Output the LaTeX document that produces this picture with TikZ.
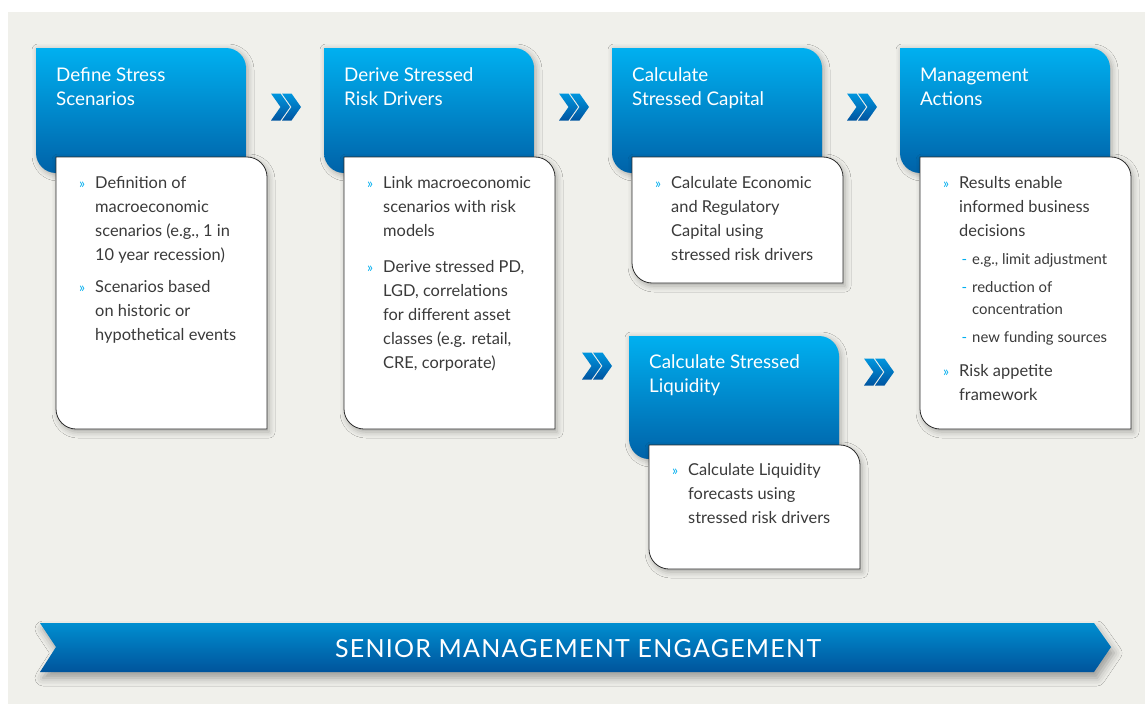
\documentclass[tikz,border=0pt]{standalone}
\usepackage{fontspec}
\setmainfont{Lato}
\usetikzlibrary{shadows.blur}
\definecolor{bgc}{RGB}{240,240,235}
\definecolor{btop}{RGB}{0,176,240}
\definecolor{bbot}{RGB}{0,98,168}
\definecolor{cyb}{RGB}{0,174,239}
\definecolor{bantop}{RGB}{0,142,208}
\definecolor{banbot}{RGB}{0,84,156}
\definecolor{chtop}{RGB}{0,150,222}
\definecolor{chbot}{RGB}{0,84,160}
\definecolor{txt}{RGB}{58,58,58}
\definecolor{edge}{RGB}{45,45,45}
\newcommand\tabshape[4]{(#1,#2) -- ++(#3-20,0) .. controls +(11,0) and +(0,-11) .. ++(20,20) -- ++(0,#4-20) -- ++(-#3+20,0) .. controls +(-11,0) and +(0,11) .. ++(-20,-20) -- cycle}
\newcommand\chevshape[2]{(#1,#2-13.5) -- ++(9.5,0) -- ++(9.5,13.5) -- ++(-9.5,13.5) -- ++(-9.5,0) -- ++(9.5,-13.5) -- cycle
 (#1+11,#2-13.5) -- ++(9.5,0) -- ++(9.5,13.5) -- ++(-9.5,13.5) -- ++(-9.5,0) -- ++(9.5,-13.5) -- cycle}
\newcommand\lines[1]{\begin{tabular}[t]{@{}l@{}}#1\end{tabular}}
\newcommand\bul{\llap{\textcolor{cyb}{\fontsize{14}{14}\selectfont »}\hspace{10pt}}}
\newcommand\dsh{\llap{\textcolor{cyb}{-}\hspace{5pt}}}
\tikzset{
  hdr/.style={top color=btop, bottom color=bbot, blur shadow={shadow xshift=2pt, shadow yshift=-2pt, shadow blur radius=6pt, shadow opacity=30}},
  card/.style={fill=white, draw=edge, line width=0.8pt, blur shadow={shadow xshift=2pt, shadow yshift=-3pt, shadow blur radius=6pt, shadow opacity=30}},
  chev/.style={top color=chtop, bottom color=chbot},
  title/.style={anchor=base west, inner sep=0pt, text=white, font=\fontsize{18.8}{24}\selectfont},
  item/.style={anchor=base west, inner sep=0pt, text=txt, font=\fontsize{16.4}{24}\selectfont},
  subitem/.style={anchor=base west, inner sep=0pt, text=txt, font=\fontsize{14.9}{22}\selectfont},
  banner/.style={top color=bantop, bottom color=banbot, blur shadow={shadow xshift=3pt, shadow yshift=-6pt, shadow blur radius=8pt, shadow opacity=35}}
}
\begin{document}
\begin{tikzpicture}[x=1pt,y=-1pt]
\useasboundingbox (0,0) rectangle (1145,704);
\fill[white] (0,0) rectangle (1145,704);
\fill[bgc] (8,12) rectangle (1145,704);
% box 1
\path[hdr] \tabshape{36}{48}{210}{125};
\path[card] \tabshape{56}{157}{211}{272};
\node[title] (t1) at (56,81) {\lines{Define Stress\\Scenarios}};
\node[item] (i1a) at (95,188) {\lines{\bul Definition of\\macroeconomic\\scenarios (e.g., 1 in\\10 year recession)}};
\node[item] (i1b) at (95,292) {\lines{\bul Scenarios based\\on historic or\\hypothetical events}};
% box 2
\path[hdr] \tabshape{324}{48}{210}{125};
\path[card] \tabshape{344}{157}{211}{272};
\node[title] (t2) at (344,81) {\lines{Derive Stressed\\Risk Drivers}};
\node[item] (i2a) at (383,188) {\lines{\bul Link macroeconomic\\scenarios with risk\\models}};
\node[item] (i2b) at (383,272) {\lines{\bul Derive stressed PD,\\LGD, correlations\\for different asset\\classes (e.g. retail,\\CRE, corporate)}};
% box 3
\path[hdr] \tabshape{612}{48}{210}{125};
\path[card] \tabshape{632}{157}{211}{126};
\node[title] (t3) at (632,81) {\lines{Calculate\\Stressed Capital}};
\node[item] (i3a) at (671,188) {\lines{\bul Calculate Economic\\and Regulatory\\Capital using\\stressed risk drivers}};
% box 4
\path[hdr] \tabshape{900}{48}{210}{125};
\path[card] \tabshape{920}{157}{211}{272};
\node[title] (t4) at (920,81) {\lines{Management\\Actions}};
\node[item] (i4a) at (959,188) {\lines{\bul Results enable\\informed business\\decisions}};
\node[subitem] (s4a) at (972,264) {\lines{\dsh e.g., limit adjustment}};
\node[subitem] (s4b) at (972,292) {\lines{\dsh reduction of\\concentration}};
\node[subitem] (s4c) at (972,342) {\lines{\dsh new funding sources}};
\node[item] (i4b) at (959,376) {\lines{\bul Risk appetite\\framework}};
% box 5
\path[hdr] \tabshape{629}{336}{210}{123};
\path[card] \tabshape{649}{445}{211}{124};
\node[title] (t5) at (649,368) {\lines{Calculate Stressed\\Liquidity}};
\node[item] (i5a) at (688,475) {\lines{\bul Calculate Liquidity\\forecasts using\\stressed risk drivers}};
% chevrons
\path[chev] \chevshape{271}{107};
\path[chev] \chevshape{559}{107};
\path[chev] \chevshape{847}{107};
\path[chev] \chevshape{582}{366};
\path[chev] \chevshape{864}{372};
% banner
\path[banner] (40,623) -- (1094,623) -- (1111,647) -- (1094,672) -- (40,672) -- (56,647) -- cycle;
\node[anchor=base, inner sep=0pt, text=white, font=\fontsize{25}{25}\selectfont\addfontfeatures{LetterSpace=5}] (ban) at (578,657) {SENIOR MANAGEMENT ENGAGEMENT};
\end{tikzpicture}
\end{document}
